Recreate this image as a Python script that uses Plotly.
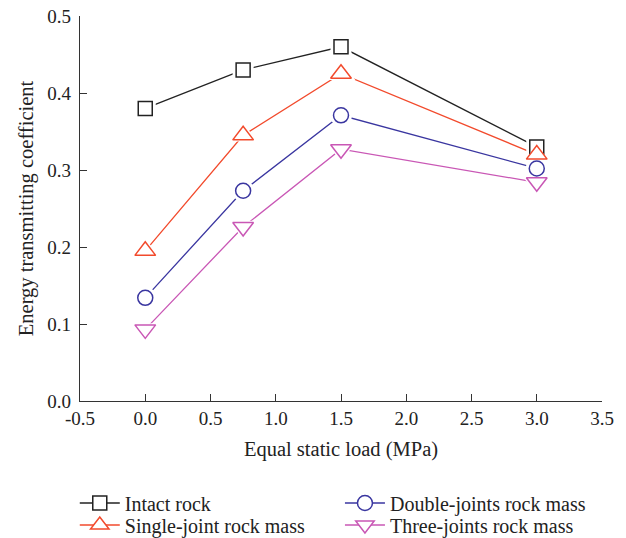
import plotly.graph_objects as go

load = [0.0, 0.75, 1.5, 3.0]
intact = [0.38, 0.43, 0.46, 0.33]
single = [0.195, 0.345, 0.425, 0.32]
double = [0.134, 0.273, 0.371, 0.302]
three = [0.093, 0.226, 0.327, 0.284]
x_ticks = [-0.5, 0.0, 0.5, 1.0, 1.5, 2.0, 2.5, 3.0, 3.5]
x_tick_labels = ["-0.5", "0.0", "0.5", "1.0", "1.5", "2.0", "2.5", "3.0", "3.5"]

names = ["Intact rock", "Single-joint rock mass", "Double-joints rock mass", "Three-joints rock mass"]
series = [intact, single, double, three]
colors = ["#222222", "#f24a2c", "#3a36a0", "#c957b5"]
fill_symbols = ["square", "triangle-up", "circle", "triangle-down"]
sizes = [14, 18, 15, 18]
legend_ids = ["legend", "legend2", "legend3", "legend4"]

fig = go.Figure()
for s, c in zip(series, colors):
    fig.add_trace(go.Scatter(x=load, y=s, mode="lines", line=dict(color=c, width=1.3),
                             showlegend=False, hoverinfo="skip"))
for s, sym, sz in zip(series, fill_symbols, sizes):
    fig.add_trace(go.Scatter(x=load, y=s, mode="markers",
                             marker=dict(symbol=sym, size=sz + 7, color="white", line=dict(width=0)),
                             showlegend=False, hoverinfo="skip"))
for s, c, sym, sz in zip(series, colors, fill_symbols, sizes):
    fig.add_trace(go.Scatter(x=load, y=s, mode="markers",
                             marker=dict(symbol=sym, size=sz, color="white", line=dict(color=c, width=1.5)),
                             showlegend=False))
for n, c, sym, sz, lg in zip(names, colors, fill_symbols, sizes, legend_ids):
    fig.add_trace(go.Scatter(x=[None], y=[None], mode="lines+markers", name=n, legend=lg,
                             line=dict(color=c, width=1.3),
                             marker=dict(symbol=sym, size=sz, color="white", line=dict(color=c, width=1.5))))

font = "Liberation Serif, Times New Roman, serif"
leg_common = dict(orientation="h", xref="paper", xanchor="left",
                  yref="container", yanchor="middle",
                  font=dict(size=20), itemwidth=40, bgcolor="rgba(0,0,0,0)")
col1_x = -0.01
col2_x = 0.498
row1_y = (538 - 503) / 538
row2_y = (538 - 525) / 538
fig.update_layout(
    width=626, height=538,
    margin=dict(l=80, r=24, t=16, b=137),
    plot_bgcolor="white", paper_bgcolor="white",
    font=dict(family=font, size=19, color="#222"),
    xaxis=dict(range=[-0.5, 3.5], tickvals=x_ticks, ticktext=x_tick_labels, showline=True, linecolor="#333",
               linewidth=1.3, ticks="inside", ticklen=7, tickcolor="#333", showgrid=False, zeroline=False,
               automargin=False, ticklabelstandoff=0,
               title=dict(text="Equal static load (MPa)", font=dict(size=20.5), standoff=13)),
    yaxis=dict(range=[0, 0.5], dtick=0.1, tickformat=".1f", showline=True, linecolor="#333",
               linewidth=1.3, ticks="inside", ticklen=7, tickcolor="#333", showgrid=False, zeroline=False,
               automargin=False, ticklabelstandoff=4,
               title=dict(text="Energy transmitting coefficient", font=dict(size=20.5), standoff=8)),
    legend=dict(leg_common, x=col1_x, y=row1_y),
    legend2=dict(leg_common, x=col1_x, y=row2_y),
    legend3=dict(leg_common, x=col2_x, y=row1_y),
    legend4=dict(leg_common, x=col2_x, y=row2_y),
)

fig.write_html("out.html", config={"displayModeBar": False},
               post_script="document.body.style.margin='0';")
